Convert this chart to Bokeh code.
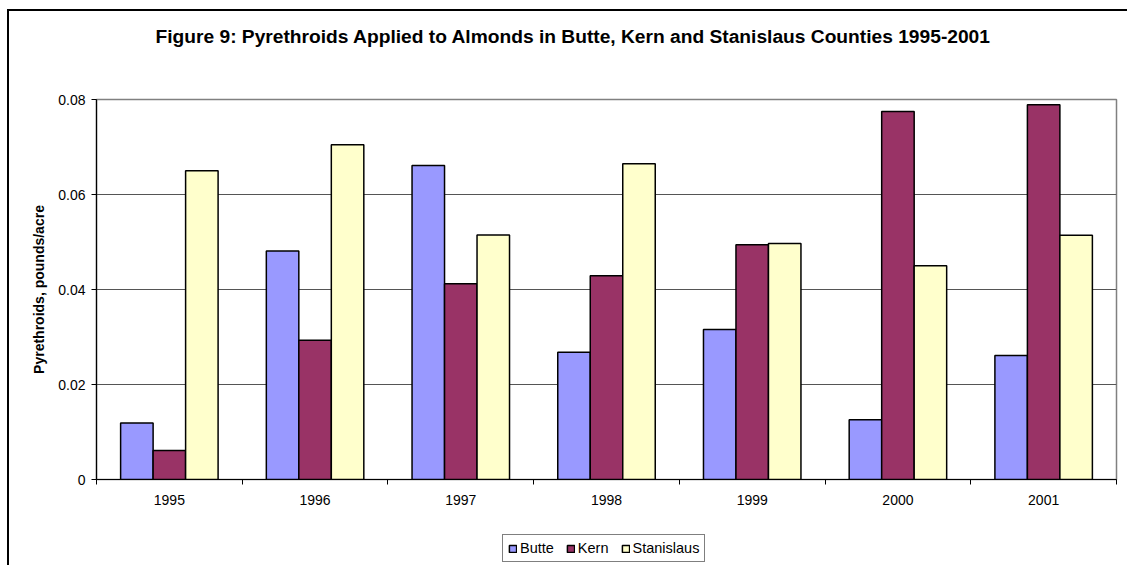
from bokeh.plotting import figure
from bokeh.layouts import column
from bokeh.models import (FixedTicker, Legend, LegendItem, Title, Range1d,
                          ColumnDataSource, InlineStyleSheet)
from bokeh.embed import file_html
from bokeh.resources import INLINE

# ---- data ----
years = ["1995", "1996", "1997", "1998", "1999", "2000", "2001"]
butte = [0.0119, 0.0481, 0.0661, 0.0268, 0.0316, 0.0126, 0.0261]
kern = [0.0061, 0.0293, 0.0412, 0.0429, 0.0494, 0.0775, 0.0789]
stanislaus = [0.0650, 0.0705, 0.0515, 0.0665, 0.0497, 0.0450, 0.0514]
series_names = ["Butte", "Kern", "Stanislaus"]
y_ticks = [0, 0.02, 0.04, 0.06, 0.08]
title_text = "Figure 9: Pyrethroids Applied to Almonds in Butte, Kern and Stanislaus Counties 1995-2001"
y_title = "Pyrethroids, pounds/acre"

# ---- styles ----
colors = ["#9999FF", "#993366", "#FFFFCC"]
FONT = "Liberation Sans"
bar_w = 0.223
offsets = [-bar_w, 0.0, bar_w]

# outer chart border (only its left and top edges fall inside the window)
border_css = InlineStyleSheet(css="""
:host {
  background:
    linear-gradient(#000, #000) 7px 9px / 2px 700px no-repeat,
    linear-gradient(#000, #000) 7px 9px / 1300px 2px no-repeat,
    #ffffff;
}
""")

p = figure(width=1127, height=525, output_backend="svg", toolbar_location=None,
           x_range=Range1d(0, len(years)), y_range=Range1d(0, 0.08),
           min_border_left=96, min_border_right=11, min_border_top=99,
           min_border_bottom=46)
p.background_fill_color = "white"
p.border_fill_color = None
p.outline_line_color = "#808080"
p.outline_line_width = 1.5

renderers = []
for name, vals, col, off in zip(series_names, [butte, kern, stanislaus], colors, offsets):
    src = ColumnDataSource(dict(x=[i + 0.5 + off for i in range(len(years))], top=vals))
    r = p.vbar(x="x", top="top", width=bar_w, bottom=0, source=src,
               fill_color=col, line_color="black", line_width=1.5)
    renderers.append(r)

# x axis: labels centred in categories, ticks at category boundaries
p.xaxis.ticker = FixedTicker(ticks=[i + 0.5 for i in range(len(years))],
                             minor_ticks=list(range(len(years) + 1)))
p.xaxis.major_label_overrides = {i + 0.5: y for i, y in enumerate(years)}
p.xaxis.major_tick_out = 0
p.xaxis.major_tick_in = 0
p.xaxis.minor_tick_out = 5
p.xaxis.minor_tick_in = 0
p.xaxis.minor_tick_line_color = "black"
p.xaxis.axis_line_color = "black"
p.xaxis.axis_line_width = 1.2
p.xaxis.major_label_text_font = FONT
p.xaxis.major_label_text_font_size = "14px"
p.xaxis.major_label_text_color = "black"
p.xaxis.major_label_standoff = 10

p.yaxis.ticker = FixedTicker(ticks=y_ticks, minor_ticks=[])
p.yaxis.major_label_overrides = {0: "0"}
p.yaxis.major_tick_out = 5
p.yaxis.major_tick_in = 0
p.yaxis.major_tick_line_color = "black"
p.yaxis.axis_line_color = "black"
p.yaxis.axis_line_width = 1.2
p.yaxis.major_label_text_font = FONT
p.yaxis.major_label_text_font_size = "14px"
p.yaxis.major_label_text_color = "black"
p.yaxis.major_label_standoff = 6
p.yaxis.axis_label = y_title
p.yaxis.axis_label_text_font = FONT
p.yaxis.axis_label_text_font_style = "bold"
p.yaxis.axis_label_text_font_size = "14px"
p.yaxis.axis_label_text_color = "black"
p.yaxis.axis_label_standoff = 8

p.xgrid.grid_line_color = None
p.ygrid.ticker = FixedTicker(ticks=y_ticks[1:])
p.ygrid.grid_line_color = "#555555"
p.ygrid.grid_line_width = 1

# title: a blank spacer next to the frame, then the title text above it
p.add_layout(Title(text=" ", text_font_size="45px", standoff=0), "above")
p.add_layout(Title(text=title_text, align="left", offset=59, text_font=FONT,
                   text_font_style="bold", text_font_size="19.2px",
                   text_color="black", standoff=0), "above")

# legend strip below the chart
lf = figure(width=1127, height=40, output_backend="svg", toolbar_location=None,
            x_range=Range1d(0, 1), y_range=Range1d(0, 1),
            x_axis_type=None, y_axis_type=None,
            min_border_left=96, min_border_right=11, min_border_top=0,
            min_border_bottom=0)
lf.outline_line_color = None
lf.background_fill_color = None
lf.border_fill_color = None
lf.grid.visible = False
dummy = []
for col in colors:
    # swatch-only renderers: their single small bar sits hidden behind the legend box
    dummy.append(lf.vbar(x=[0.5], top=[0.4], bottom=[0.3], width=0.02, fill_color=col,
                         line_color="black", line_width=1.5))
legend = Legend(items=[LegendItem(label=n, renderers=[r], index=0) for n, r in zip(series_names, dummy)],
                orientation="horizontal", location=(406, 3),
                border_line_color="black", border_line_width=1,
                padding=5, spacing=12, glyph_width=9, glyph_height=9,
                label_standoff=3, label_height=14, label_text_font=FONT,
                label_text_font_size="14.5px", label_text_color="black", margin=0,
                background_fill_color="white", background_fill_alpha=1)
lf.add_layout(legend)

lay = column(p, lf, spacing=0, stylesheets=[border_css])
open("out.html", "w").write(file_html(lay, INLINE))
